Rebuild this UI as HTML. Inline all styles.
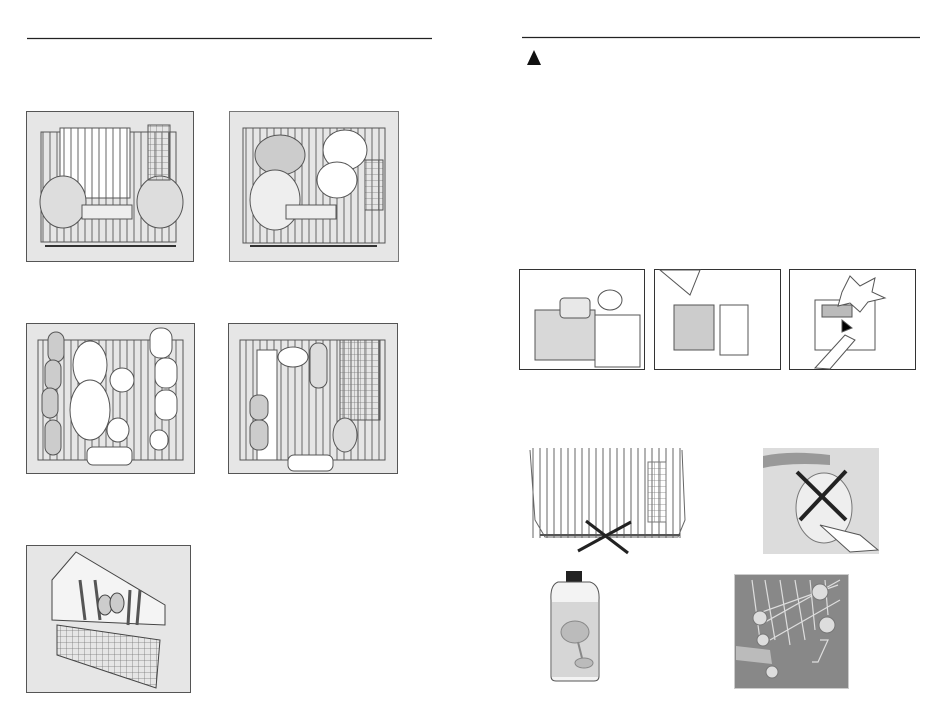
<!DOCTYPE html>
<html><head><meta charset="utf-8"><style>
html,body{margin:0;padding:0;background:#fff;}
body{width:950px;height:725px;position:relative;overflow:hidden;font-family:"Liberation Sans",sans-serif;}
svg{position:absolute;left:0;top:0;}
</style></head><body>
<svg width="950" height="725" viewBox="0 0 950 725" xmlns="http://www.w3.org/2000/svg">
<defs>
<pattern id="grid" width="6" height="6" patternUnits="userSpaceOnUse"><path d="M0 0H6M0 0V6" stroke="#777" stroke-width="0.8" fill="none"/></pattern>
<pattern id="vl" width="7" height="10" patternUnits="userSpaceOnUse"><path d="M1 0V10" stroke="#666" stroke-width="1" fill="none"/></pattern>
</defs>
<!-- rules -->
<line x1="27" y1="38.5" x2="432" y2="38.5" stroke="#222" stroke-width="1.3"/>
<line x1="522" y1="37.5" x2="920" y2="37.5" stroke="#222" stroke-width="1.3"/>
<polygon points="534,50 527,65 541,65" fill="#111"/>

<!-- Box 1 -->
<rect x="26.5" y="111.5" width="167" height="150" fill="#e6e6e6" stroke="#555"/>
<g stroke="#555" fill="#fff" stroke-width="1">
<rect x="41" y="132" width="135" height="110" fill="url(#vl)"/>
<path d="M60 128 h70 v70 h-70z" fill="#fff"/>
<rect x="60" y="128" width="70" height="70" fill="url(#vl)"/>
<ellipse cx="63" cy="202" rx="23" ry="26" fill="#ddd"/>
<ellipse cx="160" cy="202" rx="23" ry="26" fill="#ddd"/>
<rect x="82" y="205" width="50" height="14" fill="#eee"/>
<rect x="148" y="125" width="22" height="55" fill="url(#grid)"/>
<line x1="45" y1="246" x2="176" y2="246" stroke="#333" stroke-width="2"/>
</g>
<!-- Box 2 -->
<rect x="229.5" y="111.5" width="169" height="150" fill="#e6e6e6" stroke="#777"/>
<g stroke="#555" fill="#fff">
<rect x="243" y="128" width="142" height="115" fill="url(#vl)"/>
<ellipse cx="280" cy="155" rx="25" ry="20" fill="#ccc"/>
<ellipse cx="345" cy="150" rx="22" ry="20"/>
<ellipse cx="337" cy="180" rx="20" ry="18"/>
<ellipse cx="275" cy="200" rx="25" ry="30" fill="#eee"/>
<rect x="286" y="205" width="50" height="14" fill="#eee"/>
<rect x="365" y="160" width="18" height="50" fill="url(#grid)"/>
<line x1="250" y1="246" x2="377" y2="246" stroke="#333" stroke-width="2"/>
</g>
<!-- Box 3 -->
<rect x="26.5" y="323.5" width="168" height="150" fill="#e6e6e6" stroke="#555"/>
<g stroke="#555" fill="#fff">
<rect x="38" y="340" width="145" height="120" fill="url(#vl)"/>
<g fill="#ccc"><rect x="48" y="332" width="16" height="30" rx="8"/><rect x="45" y="360" width="16" height="30" rx="8"/><rect x="42" y="388" width="16" height="30" rx="8"/><rect x="45" y="420" width="16" height="35" rx="8"/></g>
<ellipse cx="90" cy="365" rx="17" ry="24"/><ellipse cx="90" cy="410" rx="20" ry="30"/>
<ellipse cx="122" cy="380" rx="12" ry="12"/><ellipse cx="118" cy="430" rx="11" ry="12"/>
<rect x="150" y="328" width="22" height="30" rx="10"/><rect x="155" y="358" width="22" height="30" rx="10"/><rect x="155" y="390" width="22" height="30" rx="10"/><rect x="150" y="430" width="18" height="20" rx="9"/>
<rect x="87" y="447" width="45" height="18" rx="6"/>
</g>
<!-- Box 4 -->
<rect x="228.5" y="323.5" width="169" height="150" fill="#e6e6e6" stroke="#555"/>
<g stroke="#555" fill="#fff">
<rect x="240" y="340" width="145" height="120" fill="url(#vl)"/>
<rect x="257" y="350" width="20" height="110" fill="#fff"/>
<g fill="#ccc"><rect x="250" y="395" width="18" height="25" rx="8"/><rect x="250" y="420" width="18" height="30" rx="8"/></g>
<ellipse cx="293" cy="357" rx="15" ry="10"/>
<rect x="310" y="343" width="17" height="45" rx="8" fill="#ddd"/>
<rect x="340" y="340" width="40" height="80" fill="url(#grid)"/>
<ellipse cx="345" cy="435" rx="12" ry="17" fill="#ddd"/>
<rect x="288" y="455" width="45" height="16" rx="6"/>
</g>
<!-- Box 5 -->
<rect x="26.5" y="545.5" width="164" height="147" fill="#e6e6e6" stroke="#555"/>
<g stroke="#444" fill="#fff">
<path d="M52 580 L76 552 L165 605 L165 625 L52 620Z" fill="#f4f4f4"/>
<path d="M57 625 L160 640 L156 688 L57 655Z" fill="url(#grid)"/>
<path d="M80 580 L85 620 M95 580 L100 620 M130 590 L128 625 M140 590 L137 625" stroke="#555" stroke-width="3"/>
<ellipse cx="105" cy="605" rx="7" ry="10" fill="#ccc"/><ellipse cx="117" cy="603" rx="7" ry="10" fill="#ccc"/>
</g>

<!-- Right top three -->
<g stroke="#333" fill="#fff">
<rect x="519.5" y="269.5" width="125" height="100" fill="#fff"/>
<rect x="654.5" y="269.5" width="126" height="100" fill="#fff"/>
<rect x="789.5" y="269.5" width="126" height="100" fill="#fff"/>
</g>
<g stroke="#555">
<rect x="535" y="310" width="60" height="50" fill="#d8d8d8"/>
<rect x="560" y="298" width="30" height="20" rx="4" fill="#e8e8e8"/>
<ellipse cx="610" cy="300" rx="12" ry="10" fill="#fff"/>
<rect x="595" y="315" width="45" height="52" fill="#fff"/>
<rect x="674" y="305" width="40" height="45" fill="#ccc"/>
<rect x="720" y="305" width="28" height="50" fill="#fff"/>
<path d="M660 270 L700 270 L690 295Z" fill="#fff"/>
<rect x="815" y="300" width="60" height="50" fill="#fff"/>
<rect x="822" y="305" width="30" height="12" fill="#bbb"/>
<polygon points="850,276 860,286 875,278 872,292 885,298 868,302 860,312 850,303 838,306 842,292" fill="#fff"/>
<path d="M815 368 L845 335 L855 340 L830 369Z" fill="#fff"/>
<path d="M842 320 L852 328 L842 332Z" fill="#000"/>
</g>

<!-- rack with X -->
<g stroke="#666" fill="none">
<rect x="532" y="448" width="150" height="90" fill="url(#vl)" stroke="none"/>
<path d="M530 450 L535 520 L545 537 L678 537 L685 520 L682 450"/>
<rect x="648" y="462" width="18" height="60" fill="url(#grid)" stroke="#777"/>
<line x1="540" y1="535" x2="680" y2="535" stroke="#555" stroke-width="2"/>
</g>
<line x1="586" y1="521" x2="628" y2="553" stroke="#222" stroke-width="3"/>
<line x1="631" y1="522" x2="578" y2="551" stroke="#222" stroke-width="3"/>

<!-- faucet -->
<rect x="763" y="448" width="116" height="106" fill="#dcdcdc"/>
<path d="M763 456 Q790 450 830 455 L830 465 Q790 462 763 468Z" fill="#999"/>
<ellipse cx="824" cy="508" rx="28" ry="35" fill="#eee" stroke="#777"/>
<path d="M820 525 Q840 530 860 535 L878 550 L850 552Z" fill="#fff" stroke="#555"/>
<line x1="797" y1="472" x2="846" y2="520" stroke="#222" stroke-width="4"/>
<line x1="846" y1="471" x2="800" y2="520" stroke="#222" stroke-width="4"/>

<!-- bottle -->
<rect x="566" y="571" width="16" height="11" fill="#222"/>
<path d="M558 582 L590 582 Q600 585 599 600 L599 676 Q599 681 594 681 L556 681 Q551 681 551 676 L551 600 Q550 585 558 582Z" fill="#f3f3f3" stroke="#555"/>
<rect x="552" y="602" width="46" height="75" fill="#d6d6d6"/>
<ellipse cx="575" cy="632" rx="14" ry="11" fill="#bbb" stroke="#888"/>
<line x1="578" y1="642" x2="582" y2="658" stroke="#888" stroke-width="2"/>
<ellipse cx="584" cy="663" rx="9" ry="5" fill="#bbb" stroke="#888"/>

<!-- rack filter -->
<rect x="734.5" y="574.5" width="114" height="114" fill="#888" stroke="#ccc"/>
<g stroke="#ddd" fill="none" stroke-width="1.2">
<path d="M752 580 L760 640 M765 580 L775 640 M780 580 L790 645 M795 580 L805 640 M810 580 L815 630 M825 580 L828 615"/>
<path d="M760 625 L840 580 M762 612 L838 585 M770 640 L840 600"/>
<path d="M820 640 L828 640 L818 662 L812 662"/>
</g>
<path d="M736 646 L770 650 L772 664 L736 660Z" fill="#bbb"/>
<g fill="#ddd" stroke="#777">
<circle cx="820" cy="592" r="8"/><circle cx="760" cy="618" r="7"/><circle cx="827" cy="625" r="8"/><circle cx="763" cy="640" r="6"/><circle cx="772" cy="672" r="6"/>
</g>
</svg>
</body></html>
